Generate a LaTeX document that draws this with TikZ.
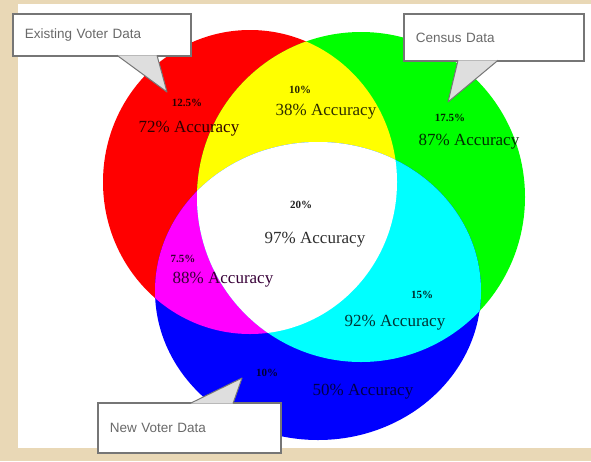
\documentclass[tikz,border=0pt]{standalone}
\usepackage{fontspec}
\setmainfont{Liberation Serif}
\setsansfont{Liberation Sans}

\definecolor{parch}{RGB}{233,216,182}
\definecolor{boxline}{RGB}{118,118,118}
\definecolor{ptrgray}{RGB}{222,222,222}
\definecolor{labgray}{RGB}{105,105,105}
\definecolor{setred}{RGB}{255,0,0}
\definecolor{setgreen}{RGB}{0,255,0}
\definecolor{setblue}{RGB}{0,0,255}
\definecolor{setyellow}{RGB}{255,255,0}
\definecolor{setmagenta}{RGB}{255,0,255}
\definecolor{setcyan}{RGB}{0,255,255}

% the three data sets
\newcommand\redblob{(250,182) ellipse [x radius=147pt, y radius=152pt]}
\newcommand\greenblob{(361,197) ellipse [x radius=164pt, y radius=165pt]}
\newcommand\blueblob{(318,291) ellipse [x radius=163pt, y radius=149pt]}

\tikzset{
  callbox/.style={rectangle, draw=boxline, line width=1.8pt, fill=white,
    anchor=north west, align=left, inner xsep=12pt, inner ysep=0pt,
    font=\sffamily\fontsize{13.5}{15}\selectfont, text=labgray},
  pointer/.style={fill=ptrgray, draw=boxline, line width=1pt, line join=round},
  pct/.style={font=\bfseries\fontsize{11}{13}\selectfont},
  acc/.style={font=\fontsize{17}{19}\selectfont},
}

\begin{document}
\begin{tikzpicture}[x=1pt,y=-1pt]
	\useasboundingbox (0,0) rectangle (591,461);
	\fill[parch] (0,0) rectangle (591,461);
	\fill[white] (18,4) rectangle (591,448);

	% single sets
	\fill[setred] \redblob;
	\fill[setgreen] \greenblob;
	\fill[setblue] \blueblob;
	% overlaps
	\begin{scope}
		\clip \redblob;
		\fill[setyellow] \greenblob;
		\fill[setmagenta] \blueblob;
	\end{scope}
	\begin{scope}
		\clip \greenblob;
		\fill[setcyan] \blueblob;
		\clip \redblob;
		\fill[white] \blueblob;
	\end{scope}

	% region labels
	\node[pct, text=black!85!setred] at (187,103) (redpct) {12.5\%};
	\node[acc, text=black!82!setred] at (189,129) (redacc) {72\% Accuracy};
	\node[pct, text=black!85!setyellow] at (300,90) (yelpct) {10\%};
	\node[acc, text=black!82!setyellow] at (326,112) (yelacc) {38\% Accuracy};
	\node[pct, text=black!85!setgreen] at (450,118) (grnpct) {17.5\%};
	\node[acc, text=black!82!setgreen] at (469,142) (grnacc) {87\% Accuracy};
	\node[pct, text=black!88] at (301,205) (whtpct) {20\%};
	\node[acc, text=black!82] at (315,240) (whtacc) {97\% Accuracy};
	\node[pct, text=black!80!setmagenta] at (183,259) (magpct) {7.5\%};
	\node[acc, text=black!78!setmagenta] at (223,280) (magacc) {88\% Accuracy};
	\node[pct, text=black!85!setcyan] at (422,295) (cynpct) {15\%};
	\node[acc, text=black!80!setcyan] at (395,323) (cynacc) {92\% Accuracy};
	\node[pct, text=black!80!setblue] at (267,373) (blupct) {10\%};
	\node[acc, text=black!72!setblue] at (363,392) (bluacc) {50\% Accuracy};

	% callouts
	\node[callbox, text width=154pt, minimum height=42pt] at (12,13) (existbox) {Existing Voter Data\\[3pt]};
	\node[callbox, text width=156pt, minimum height=47pt] at (403,13) (censbox) {Census Data\\[6pt]};
	\node[callbox, text width=159pt, minimum height=50pt] at (97,402) (newbox) {New Voter Data\\[6pt]};
	\coordinate (existtip) at (167,92);
	\coordinate (censtip) at (448,102);
	\coordinate (newtip) at (242,378);
	\draw[pointer] ([xshift=105pt,yshift=1.5pt]existbox.south west) -- (existtip) -- ([xshift=145pt,yshift=1.5pt]existbox.south west);
	\draw[pointer] ([xshift=55pt,yshift=1.5pt]censbox.south west) -- (censtip) -- ([xshift=95pt,yshift=1.5pt]censbox.south west);
	\draw[pointer] ([xshift=93pt,yshift=-1.5pt]newbox.north west) -- (newtip) -- ([xshift=136pt,yshift=-1.5pt]newbox.north west);
\end{tikzpicture}
\end{document}
